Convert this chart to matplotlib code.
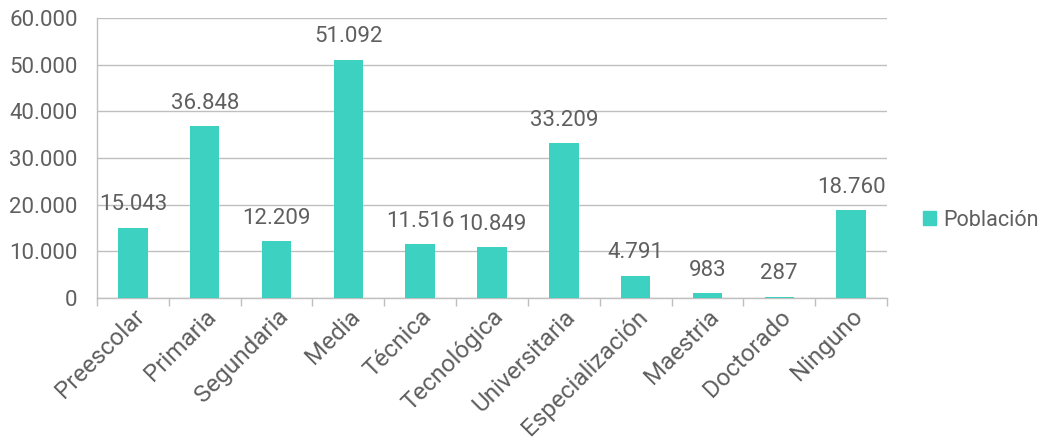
import matplotlib.pyplot as plt
import numpy as np
from matplotlib.patches import Patch

categorias = ["Preescolar", "Primaria", "Segundaria", "Media", "Técnica",
              "Tecnológica", "Universitaria", "Especialización", "Maestria",
              "Doctorado", "Ninguno"]
poblacion = [15043, 36848, 12209, 51092, 11516, 10849, 33209, 4791, 983, 287, 18760]
yticks = [0, 10000, 20000, 30000, 40000, 50000, 60000]

color_barra = "#3dd1c2"
gris_texto = "#5f5f5f"
gris_linea = "#bfbfbf"

plt.rcParams["font.family"] = ["Roboto", "DejaVu Sans"]


def fmt(v):
    return f"{v:,}".replace(",", ".")


fig = plt.figure(figsize=(10.42, 4.45), dpi=100)
ax = fig.add_axes([97 / 1042, 1 - 298 / 445, (887 - 97) / 1042, (298 - 18) / 445])

x = np.arange(len(categorias))
ax.bar(x, poblacion, width=0.41, color=color_barra, zorder=3)

for xi, v in zip(x, poblacion):
    ax.annotate(fmt(v), (xi, v), xytext=(0, 9), textcoords="offset points",
                ha="center", va="bottom", fontsize=16, color=gris_texto)

ax.set_xlim(-0.5, len(categorias) - 0.5)
ax.set_ylim(0, 60000)
ax.set_yticks(yticks)
ax.set_yticklabels([fmt(t) for t in yticks], fontsize=16, color=gris_texto)
ax.yaxis.grid(True, color=gris_linea, linewidth=1, zorder=0)
ax.tick_params(axis="y", length=0, pad=14)

# etiquetas centradas en las barras, marcas en los bordes de categoría
ax.set_xticks(x)
ax.set_xticklabels(categorias, rotation=45, ha="right", rotation_mode="anchor",
                   fontsize=17.5, color=gris_texto)
ax.tick_params(axis="x", length=0, pad=5)
ax.set_xticks(np.arange(len(categorias) + 1) - 0.5, minor=True)
ax.tick_params(axis="x", which="minor", length=6, color=gris_linea, width=1)

for s in ["top", "right"]:
    ax.spines[s].set_visible(False)
for s in ["left", "bottom"]:
    ax.spines[s].set_color(gris_linea)
    ax.spines[s].set_linewidth(1)

fig.legend(handles=[Patch(color=color_barra, label="Población")],
           loc="center left", bbox_to_anchor=(923 / 1042, 1 - 220 / 445),
           borderaxespad=0, borderpad=0, frameon=False, fontsize=15.5,
           handlelength=0.6, handleheight=0.6, handletextpad=0.35,
           labelcolor=gris_texto)

fig.savefig("out.png", dpi=100)
